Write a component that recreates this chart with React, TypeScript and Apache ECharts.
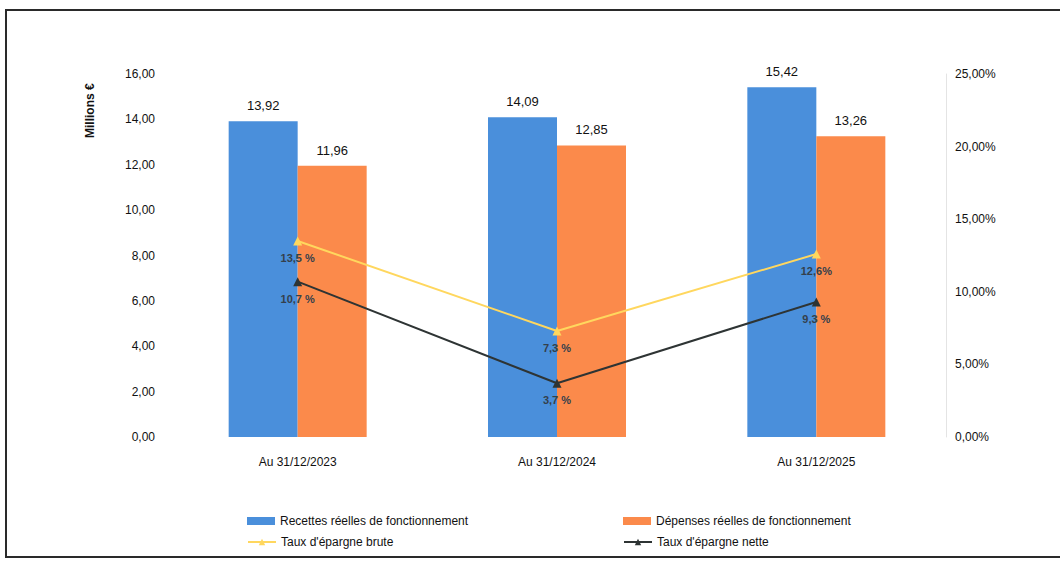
import React, { useEffect, useRef } from "react";
import * as echarts from "echarts";

const categories = ["Au 31/12/2023", "Au 31/12/2024", "Au 31/12/2025"];
const recettes = [13.92, 14.09, 15.42];
const depenses = [11.96, 12.85, 13.26];
const tauxBrute = [13.5, 7.3, 12.6];
const tauxNette = [10.7, 3.7, 9.3];
const brutLabels = ["13,5 %", "7,3 %", "12,6%"];
const netLabels = ["10,7 %", "3,7 %", "9,3 %"];
const leftTicks = { min: 0, max: 16, interval: 2 };
const rightTicks = { min: 0, max: 25, interval: 5 };

const FONT = "'Liberation Sans', Arial, sans-serif";
const comma = (v: number, d = 2) => v.toFixed(d).replace(".", ",");

export default function App() {
  const ref = useRef<HTMLDivElement>(null);
  useEffect(() => {
    const chart = echarts.init(ref.current!, undefined, { renderer: "svg" });
    const legendBase = {
      orient: "horizontal",
      itemWidth: 28,
      itemHeight: 8,
      itemGap: 4,
      textStyle: { fontFamily: FONT, fontSize: 12, color: "#111" },
    };
    chart.setOption({
      animation: false,
      backgroundColor: "#fff",
      textStyle: { fontFamily: FONT },
      grid: { left: 168, right: 114, top: 74, bottom: 125 },
      legend: [
        { ...legendBase, left: 242, top: 510, data: [{ name: "Recettes réelles de fonctionnement", icon: "rect" }] },
        { ...legendBase, left: 618, top: 510, data: [{ name: "Dépenses réelles de fonctionnement", icon: "rect" }] },
        { ...legendBase, left: 242, top: 531, data: [{ name: "Taux d'épargne brute" }] },
        { ...legendBase, left: 618, top: 531, data: [{ name: "Taux d'épargne nette" }] },
      ],
      xAxis: {
        type: "category",
        data: categories,
        axisLine: { show: false },
        axisTick: { show: false },
        axisLabel: { color: "#111", fontSize: 12, margin: 19, fontFamily: FONT },
      },
      yAxis: [
        {
          type: "value",
          ...leftTicks,
          splitLine: { show: false },
          axisLine: { show: false },
          axisTick: { show: false },
          axisLabel: { color: "#111", fontSize: 12, margin: 13, formatter: (v: number) => comma(v) },
        },
        {
          type: "value",
          position: "right",
          ...rightTicks,
          splitLine: { show: false },
          axisLine: { show: true, lineStyle: { color: "#e4e4e4", width: 1 } },
          axisTick: { show: false },
          axisLabel: { color: "#111", fontSize: 12, margin: 9, formatter: (v: number) => comma(v) + "%" },
        },
      ],
      series: [
        {
          name: "Recettes réelles de fonctionnement",
          type: "bar",
          data: recettes,
          barWidth: 69,
          barGap: "0%",
          itemStyle: { color: "#4a8fdb" },
          label: { show: true, position: "top", distance: 9, color: "#111", fontSize: 13, formatter: (p: any) => comma(p.value) },
        },
        {
          name: "Dépenses réelles de fonctionnement",
          type: "bar",
          data: depenses,
          barWidth: 69,
          barGap: "0%",
          itemStyle: { color: "#fb8a4b" },
          label: { show: true, position: "top", distance: 9, color: "#111", fontSize: 13, formatter: (p: any) => comma(p.value) },
        },
        {
          name: "Taux d'épargne brute",
          type: "line",
          yAxisIndex: 1,
          data: tauxBrute,
          symbol: "triangle",
          symbolSize: 9,
          lineStyle: { color: "#ffd75e", width: 2 },
          itemStyle: { color: "#ffd75e" },
          label: { show: true, position: "bottom", distance: 7, color: "#34404c", fontSize: 11, fontWeight: "bold", formatter: (p: any) => brutLabels[p.dataIndex] },
          z: 5,
        },
        {
          name: "Taux d'épargne nette",
          type: "line",
          yAxisIndex: 1,
          data: tauxNette,
          symbol: "triangle",
          symbolSize: 9,
          lineStyle: { color: "#2e3434", width: 2 },
          itemStyle: { color: "#2e3434" },
          label: { show: true, position: "bottom", distance: 7, color: "#34404c", fontSize: 11, fontWeight: "bold", formatter: (p: any) => netLabels[p.dataIndex] },
          z: 6,
        },
      ],
      graphic: [
        {
          type: "rect",
          shape: { x: 6, y: 10, width: 1100, height: 547 },
          style: { fill: "none", stroke: "#2a2a2a", lineWidth: 2 },
          silent: true,
        },
        {
          type: "text",
          x: 84,
          y: 138,
          rotation: Math.PI / 2,
          style: { text: "Millions €", fontSize: 12, fontWeight: "bold", fill: "#111", fontFamily: FONT },
        },
      ],
    });
    return () => chart.dispose();
  }, []);
  return <div ref={ref} style={{ position: "fixed", left: 0, top: 0, width: 1060, height: 562 }} />;
}
